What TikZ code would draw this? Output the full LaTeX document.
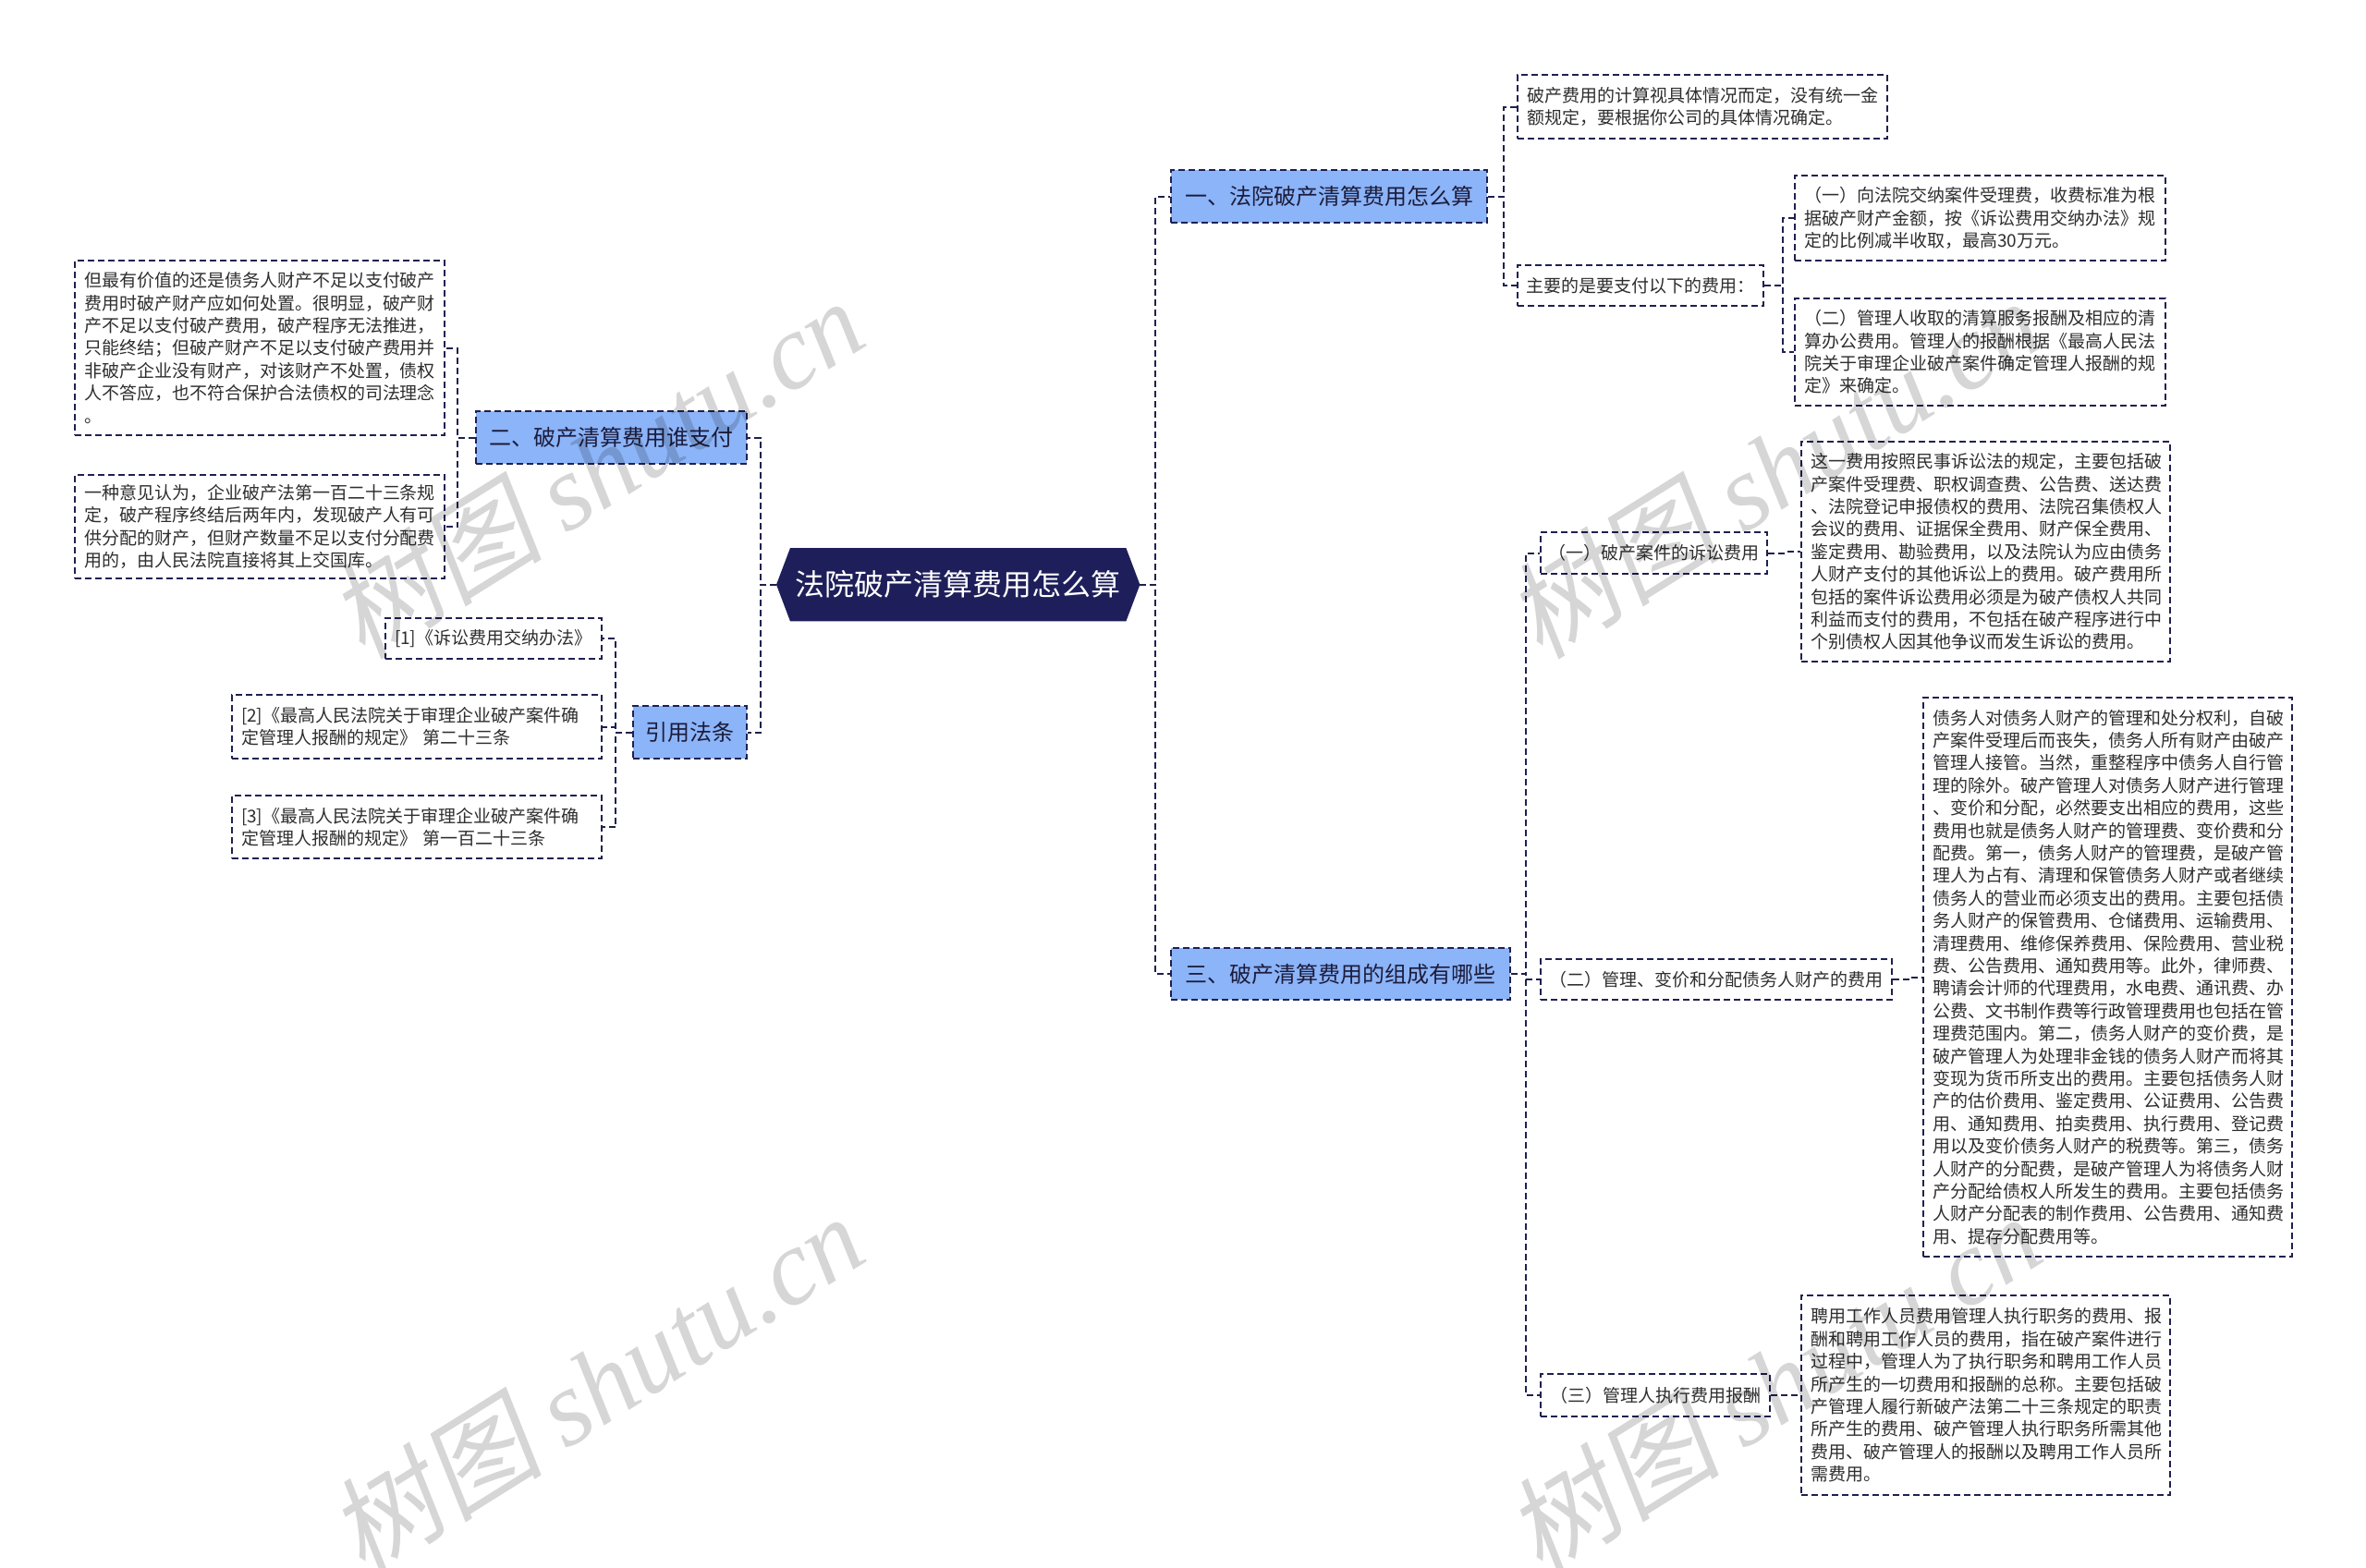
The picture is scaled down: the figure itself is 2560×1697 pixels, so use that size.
\documentclass[tikz,border=0pt]{standalone}
\usepackage{fontspec}
\setmainfont{Noto Sans CJK SC}
\newfontfamily\wmserif{Liberation Serif}
\newfontfamily\wmcjk[FakeSlant=0.18]{Noto Sans CJK SC}
\usetikzlibrary{backgrounds}
\definecolor{navy}{HTML}{1F2050}
\definecolor{rootfill}{HTML}{1E1F5A}
\definecolor{blueone}{HTML}{8CB4F8}
\definecolor{txtgray}{HTML}{2E2E2E}
\definecolor{navytext}{HTML}{1C1C3C}
\tikzset{
  dashline/.style={draw=navy, line width=2pt, dash pattern=on 7pt off 4pt},
  dbox/.style={dashline, fill=white, text=txtgray, font=\fontsize{19pt}{24.4pt}\selectfont,
    inner xsep=10pt, inner ysep=0pt, anchor=north west, align=left},
  lbl/.style={dashline, fill=white, text=txtgray, font=\fontsize{19pt}{24.4pt}\selectfont,
    inner sep=0pt, anchor=north west, align=center},
  lvlone/.style={dashline, fill=blueone, text=navytext, font=\fontsize{24pt}{28pt}\selectfont,
    inner sep=0pt, anchor=north west, align=center},
  conn/.style={dashline},
  wm/.style={rotate=32, text=black, text opacity=0.16, inner sep=0pt,
    font=\fontsize{116pt}{120pt}\selectfont}
}
\newcommand{\wmtext}{{\wmcjk 树图} {\wmserif\itshape shutu.cn}}
\begin{document}
\begin{tikzpicture}[x=1pt,y=-1pt]
\useasboundingbox (0,0) rectangle (2560,1697);
\begin{scope}[on background layer]
\fill[white] (0,0) rectangle (2560,1697);
\end{scope}

% root
\node[inner sep=0pt, minimum width=393pt, minimum height=79pt, anchor=north west,
      text=white, font=\fontsize{32pt}{36pt}\selectfont] (root) at (840,593) {法院破产清算费用怎么算};
\begin{scope}[on background layer]
\fill[rootfill] (root.west) -- ([xshift=15pt]root.north west) -- ([xshift=-15pt]root.north east)
  -- (root.east) -- ([xshift=-15pt]root.south east) -- ([xshift=15pt]root.south west) -- cycle;
\end{scope}

% level one
\node[lvlone, minimum width=342pt, minimum height=57pt] (n1) at (1266,183) {一、法院破产清算费用怎么算};
\node[lvlone, minimum width=367pt, minimum height=56pt] (n3) at (1266,1025) {三、破产清算费用的组成有哪些};
\node[lvlone, minimum width=293pt, minimum height=57pt] (n2) at (514,444) {二、破产清算费用谁支付};
\node[lvlone, minimum width=123pt, minimum height=57pt] (n4) at (684,763) {引用法条};

% left side
\node[dbox, text width=380pt, minimum height=189pt] (a1) at (80,281) {但最有价值的还是债务人财产不足以支付破产\\费用时破产财产应如何处置。很明显，破产财\\产不足以支付破产费用，破产程序无法推进，\\只能终结；但破产财产不足以支付破产费用并\\非破产企业没有财产，对该财产不处置，债权\\人不答应，也不符合保护合法债权的司法理念\\。};
\node[dbox, text width=380pt, minimum height=112pt] (a2) at (80,513) {一种意见认为，企业破产法第一百二十三条规\\定，破产程序终结后两年内，发现破产人有可\\供分配的财产，但财产数量不足以支付分配费\\用的，由人民法院直接将其上交国库。};
\node[dbox, text width=214pt, minimum height=44pt] (r1) at (416,668) {[1]《诉讼费用交纳办法》};
\node[dbox, text width=380pt, minimum height=69pt] (r2) at (250,751) {[2]《最高人民法院关于审理企业破产案件确\\定管理人报酬的规定》 第二十三条};
\node[dbox, text width=380pt, minimum height=68pt] (r3) at (250,860) {[3]《最高人民法院关于审理企业破产案件确\\定管理人报酬的规定》 第一百二十三条};

% right side, branch one
\node[dbox, text width=380pt, minimum height=69pt] (b1) at (1641,80) {破产费用的计算视具体情况而定，没有统一金\\额规定，要根据你公司的具体情况确定。};
\node[lbl, minimum width=266pt, minimum height=44pt] (b2) at (1641,286) {主要的是要支付以下的费用：};
\node[dbox, text width=381pt, minimum height=92pt] (c1) at (1941,189) {（一）向法院交纳案件受理费，收费标准为根\\据破产财产金额，按《诉讼费用交纳办法》规\\定的比例减半收取，最高30万元。};
\node[dbox, text width=381pt, minimum height=116pt] (c2) at (1941,322) {（二）管理人收取的清算服务报酬及相应的清\\算办公费用。管理人的报酬根据《最高人民法\\院关于审理企业破产案件确定管理人报酬的规\\定》来确定。};

% right side, branch three
\node[lbl, minimum width=245pt, minimum height=45pt] (d1l) at (1666,575) {（一）破产案件的诉讼费用};
\node[dbox, text width=379pt, minimum height=238pt] (d1) at (1948,477) {这一费用按照民事诉讼法的规定，主要包括破\\产案件受理费、职权调查费、公告费、送达费\\、法院登记申报债权的费用、法院召集债权人\\会议的费用、证据保全费用、财产保全费用、\\鉴定费用、勘验费用，以及法院认为应由债务\\人财产支付的其他诉讼上的费用。破产费用所\\包括的案件诉讼费用必须是为破产债权人共同\\利益而支付的费用，不包括在破产程序进行中\\个别债权人因其他争议而发生诉讼的费用。};
\node[lbl, minimum width=380pt, minimum height=44pt] (d2l) at (1666,1037) {（二）管理、变价和分配债务人财产的费用};
\node[dbox, text width=379pt, minimum height=605pt] (d2) at (2080,754) {债务人对债务人财产的管理和处分权利，自破\\产案件受理后而丧失，债务人所有财产由破产\\管理人接管。当然，重整程序中债务人自行管\\理的除外。破产管理人对债务人财产进行管理\\、变价和分配，必然要支出相应的费用，这些\\费用也就是债务人财产的管理费、变价费和分\\配费。第一，债务人财产的管理费，是破产管\\理人为占有、清理和保管债务人财产或者继续\\债务人的营业而必须支出的费用。主要包括债\\务人财产的保管费用、仓储费用、运输费用、\\清理费用、维修保养费用、保险费用、营业税\\费、公告费用、通知费用等。此外，律师费、\\聘请会计师的代理费用，水电费、通讯费、办\\公费、文书制作费等行政管理费用也包括在管\\理费范围内。第二，债务人财产的变价费，是\\破产管理人为处理非金钱的债务人财产而将其\\变现为货币所支出的费用。主要包括债务人财\\产的估价费用、鉴定费用、公证费用、公告费\\用、通知费用、拍卖费用、执行费用、登记费\\用以及变价债务人财产的税费等。第三，债务\\人财产的分配费，是破产管理人为将债务人财\\产分配给债权人所发生的费用。主要包括债务\\人财产分配表的制作费用、公告费用、通知费\\用、提存分配费用等。};
\node[lbl, minimum width=248pt, minimum height=46pt] (d3l) at (1666,1486) {（三）管理人执行费用报酬};
\node[dbox, text width=379pt, minimum height=216pt] (d3) at (1948,1401) {聘用工作人员费用管理人执行职务的费用、报\\酬和聘用工作人员的费用，指在破产案件进行\\过程中，管理人为了执行职务和聘用工作人员\\所产生的一切费用和报酬的总称。主要包括破\\产管理人履行新破产法第二十三条规定的职责\\所产生的费用、破产管理人执行职务所需其他\\费用、破产管理人的报酬以及聘用工作人员所\\需费用。};

% connectors
\draw[conn] (root.east) -- ++(17,0) |- (n1.west);
\draw[conn] (root.east) -- ++(17,0) |- (n3.west);
\draw[conn] (root.west) -- ++(-17,0) |- (n2.east);
\draw[conn] (root.west) -- ++(-17,0) |- (n4.east);
\draw[conn] (n1.east) -- ++(17,0) |- (b1.west);
\draw[conn] (n1.east) -- ++(17,0) |- (b2.west);
\draw[conn] (b2.east) -- ++(20,0) |- (c1.west);
\draw[conn] (b2.east) -- ++(20,0) |- (c2.west);
\draw[conn] (n3.east) -- ++(16,0) |- (d1l.west);
\draw[conn] (n3.east) -- ++(16,0) |- (d2l.west);
\draw[conn] (n3.east) -- ++(16,0) |- (d3l.west);
\draw[conn] (d1l.east) -- ++(18,0) |- (d1.west);
\draw[conn] (d2l.east) -- ++(17,0) |- (d2.west);
\draw[conn] (d3l.east) -- ++(17,0) |- (d3.west);
\draw[conn] (n2.west) -- ++(-19,0) |- (a1.east);
\draw[conn] (n2.west) -- ++(-19,0) |- (a2.east);
\draw[conn] (n4.west) -- ++(-18,0) |- (r1.east);
\draw[conn] (n4.west) -- ++(-18,0) |- (r2.east);
\draw[conn] (n4.west) -- ++(-18,0) |- (r3.east);

% watermarks
\node[wm] (wm1) at (645,506) {\wmtext};
\node[wm] (wm2) at (645,1497) {\wmtext};
\node[wm] (wm3) at (1919,506) {\wmtext};
\node[wm] (wm4) at (1919,1497) {\wmtext};
\end{tikzpicture}
\end{document}
